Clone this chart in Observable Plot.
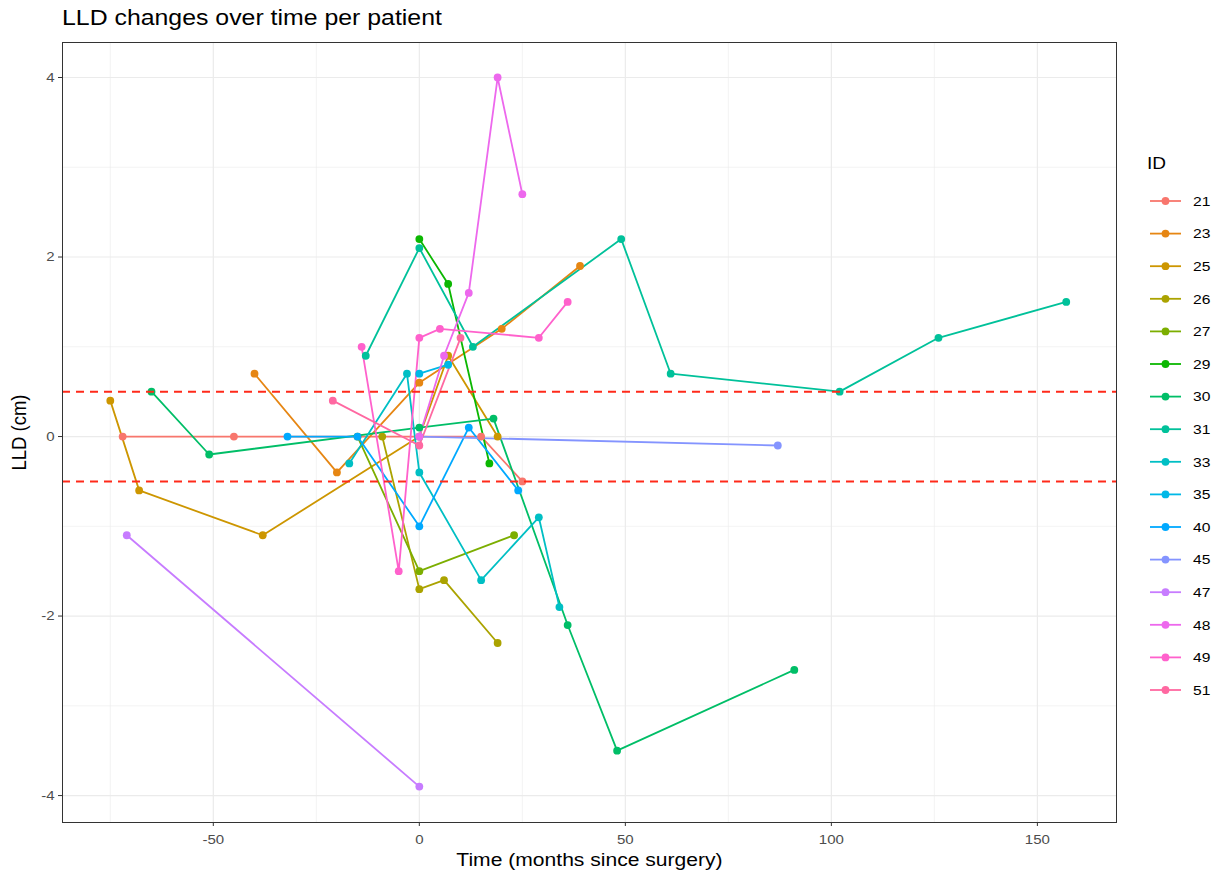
<!DOCTYPE html>
<html>
<head>
<meta charset="utf-8">
<script src="https://cdn.jsdelivr.net/npm/d3@7"></script>
<script src="https://cdn.jsdelivr.net/npm/@observablehq/plot@0.6"></script>
<style>
  body { margin: 0; background: #fff; font-family: "Liberation Sans", Arial, sans-serif; }
  #wrap { position: relative; width: 1211px; height: 875px; overflow: hidden; }
  #title { position: absolute; left: 62px; top: 5px; height: 31px; font-size: 21.8px; color: #000; white-space: nowrap;
           transform: scaleX(1.14); transform-origin: left top; }
  #chart { position: absolute; left: 0; top: 36px; }
  #legend { position: absolute; left: 1130px; top: 140px; }
</style>
</head>
<body>
<div id="wrap">
  <div id="title">LLD changes over time per patient</div>
  <div id="chart"></div>
  <svg id="legend" width="81" height="580"></svg>
</div>
<script>
// Patients and their follow-up measurements (months since surgery, leg length discrepancy in cm)
const patientIds = ["21", "23", "25", "26", "27", "29", "30", "31", "33", "35", "40", "45", "47", "48", "49", "51"];

const monthsByPatient = [
  [-72, -45, 15, 25],                       // 21
  [-40, -20, 0, 20, 39],                    // 23
  [-75, -68, -38, 0, 7, 19],                // 25
  [-9, 0, 6, 19],                           // 26
  [-15, 0, 23],                             // 27
  [0, 7, 17],                               // 29
  [-65, -51, 0, 18, 36, 48, 91],            // 30
  [-13, 0, 13, 49, 61, 102, 126, 157],      // 31
  [-17, -3, 0, 15, 29, 34],                 // 33
  [0, 7],                                   // 35
  [-32, -15, 0, 12, 24],                    // 40
  [0, 87],                                  // 45
  [-71, 0],                                 // 47
  [0, 6, 12, 19, 25],                       // 48
  [-14, -5, 0, 5, 29, 36],                  // 49
  [-21, 0, 10]                              // 51
];

const lldByPatient = [
  [0, 0, 0, -0.5],
  [0.7, -0.4, 0.6, 1.2, 1.9],
  [0.4, -0.6, -1.1, 0, 0.9, 0],
  [0, -1.7, -1.6, -2.3],
  [0, -1.5, -1.1],
  [2.2, 1.7, -0.3],
  [0.5, -0.2, 0.1, 0.2, -2.1, -3.5, -2.6],
  [0.9, 2.1, 1.0, 2.2, 0.7, 0.5, 1.1, 1.5],
  [-0.3, 0.7, -0.4, -1.6, -0.9, -1.9],
  [0.7, 0.8],
  [0, 0, -1.0, 0.1, -0.6],
  [0, -0.1],
  [-1.1, -3.9],
  [0, 0.9, 1.6, 4.0, 2.7],
  [1.0, -1.5, 1.1, 1.2, 1.1, 1.5],
  [0.4, -0.1, 1.1]
];

// Clinically relevant band (±0.5 cm)
const thresholds = [-0.5, 0.5];

// Axis ticks and grid
const xMajor = [-50, 0, 50, 100, 150];
const xMinor = [-75, -25, 25, 75, 125];
const yMajor = [-4, -2, 0, 2, 4];
const yMinor = [-3, -1, 1, 3];

// Long-format table for Plot
const rows = patientIds.flatMap((id, i) =>
  monthsByPatient[i].map((m, j) => ({ id, months: m, lld: lldByPatient[i][j] }))
);

// Evenly spaced hues in polar CIELUV (the usual discrete hue palette, l = 65, c = 100)
function hueColor(h, c = 100, l = 65) {
  const Xn = 95.047, Yn = 100, Zn = 108.883;
  const den = Xn + 15 * Yn + 3 * Zn;
  const un = 4 * Xn / den, vn = 9 * Yn / den;
  const hr = h * Math.PI / 180;
  const U = c * Math.cos(hr), V = c * Math.sin(hr);
  const Y = Yn * (l > 8 ? Math.pow((l + 16) / 116, 3) : l / 903.3);
  const u = U / (13 * l) + un, v = V / (13 * l) + vn;
  const X = 9 * Y * u / (4 * v);
  const Z = (9 * Y / v - X - 15 * Y) / 3;
  const x = X / 100, y = Y / 100, z = Z / 100;
  const lin = [
    3.240479 * x - 1.537150 * y - 0.498535 * z,
    -0.969256 * x + 1.875992 * y + 0.041556 * z,
    0.055648 * x - 0.204043 * y + 1.057311 * z
  ];
  const gam = t => {
    const s = t <= 0.0031308 ? 12.92 * t : 1.055 * Math.pow(t, 1 / 2.4) - 0.055;
    return Math.round(255 * Math.max(0, Math.min(1, s)));
  };
  const [r, g, b] = lin.map(gam);
  return d3.rgb(r, g, b).formatHex();
}
const n = patientIds.length;
const palette = d3.range(n).map(i => hueColor(15 + i * 360 / n));

const tickFormat = d => String(d);
const FONT = "Liberation Sans, Arial, sans-serif";
const WIDEN = 1.14; // text in this chart is set slightly wide

const chart = Plot.plot({
  width: 1211,
  height: 839,
  marginLeft: 62,
  marginRight: 95,
  marginTop: 6,
  marginBottom: 53,
  style: { fontFamily: FONT, fontSize: "13.2px", background: "#fff" },
  x: { domain: [-86.6, 169.2] },
  y: { domain: [-4.30, 4.39] },
  color: { domain: patientIds, range: palette },
  marks: [
    Plot.ruleX(xMinor, { stroke: "#EBEBEB", strokeWidth: 0.6 }),
    Plot.ruleY(yMinor, { stroke: "#EBEBEB", strokeWidth: 0.6 }),
    Plot.ruleX(xMajor, { stroke: "#EBEBEB", strokeWidth: 1.2 }),
    Plot.ruleY(yMajor, { stroke: "#EBEBEB", strokeWidth: 1.2 }),
    Plot.line(rows, { x: "months", y: "lld", z: "id", stroke: "id", strokeWidth: 1.8 }),
    Plot.dot(rows, { x: "months", y: "lld", fill: "id", r: 3.9 }),
    Plot.ruleY(thresholds, { stroke: "#FF2A1A", strokeWidth: 2, strokeDasharray: "8,6" }),
    Plot.frame({ stroke: "#333333", strokeWidth: 1 }),
    Plot.axisX(xMajor, {
      tickSize: 4, tickPadding: 8, tickFormat, color: "#333333", fontSize: 13.2,
      label: "Time (months since surgery)", labelAnchor: "center", labelArrow: "none", labelOffset: 43
    }),
    Plot.axisY(yMajor, {
      tickSize: 4, tickPadding: 4, tickFormat, color: "#333333", fontSize: 13.2,
      label: "LLD (cm)", labelAnchor: "center", labelArrow: "none", labelOffset: 51
    })
  ]
});

document.getElementById("chart").appendChild(chart);

const svg = d3.select(chart);
// Tick labels in mid grey, axis titles in black and larger
svg.selectAll("g[aria-label='x-axis tick label'], g[aria-label='y-axis tick label']").attr("fill", "#4D4D4D");
svg.selectAll("g[aria-label='x-axis label'], g[aria-label='y-axis label']")
  .attr("fill", "#000").style("font-size", "18.5px");
// Widen every axis glyph horizontally around its own anchor
svg.selectAll("g[aria-label*='axis'] text").each(function () {
  const t = this.getAttribute("transform") || "";
  const m = t.match(/^(translate\([^)]*\))(.*)$/);
  if (m) this.setAttribute("transform", `${m[1]} scale(${WIDEN},1)${m[2]}`);
  else {
    const x = +this.getAttribute("x") || 0, y = +this.getAttribute("y") || 0;
    this.removeAttribute("x"); this.removeAttribute("y");
    this.setAttribute("transform", `translate(${x},${y}) scale(${WIDEN},1) ${t}`);
  }
});

// Legend: line + point key per patient
const legend = d3.select("#legend");
legend.append("text")
  .attr("transform", `translate(17,29) scale(${WIDEN},1)`)
  .attr("font-size", 16.7).attr("fill", "#000")
  .attr("font-family", FONT)
  .text("ID");
const entry = legend.selectAll("g.key").data(patientIds).join("g")
  .attr("class", "key")
  .attr("transform", (d, i) => `translate(0, ${61 + i * 32.6})`);
entry.append("line")
  .attr("x1", 20).attr("x2", 51)
  .attr("stroke", (d, i) => palette[i]).attr("stroke-width", 1.8);
entry.append("circle")
  .attr("cx", 35.5).attr("r", 3.9)
  .attr("fill", (d, i) => palette[i]);
entry.append("text")
  .attr("transform", `translate(63,0) scale(${WIDEN},1)`)
  .attr("dy", "0.35em")
  .attr("font-size", 13.7).attr("fill", "#000")
  .attr("font-family", FONT)
  .text(d => d);
</script>
</body>
</html>
